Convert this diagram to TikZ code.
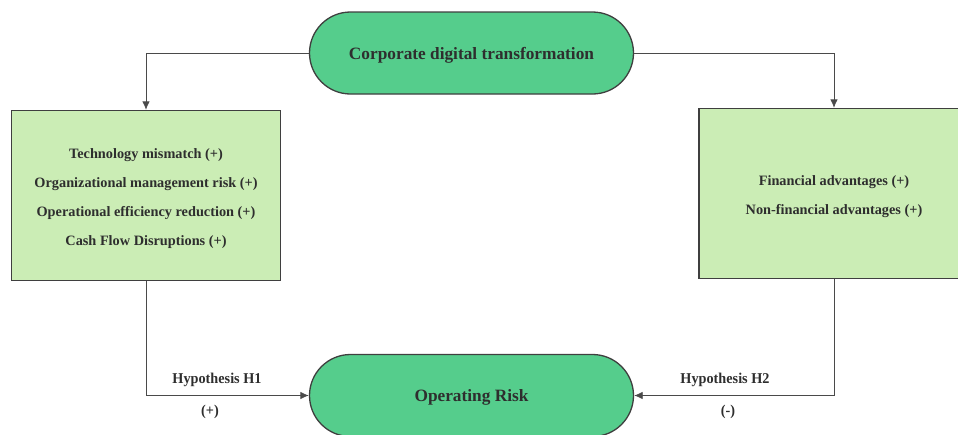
\documentclass[tikz,border=0pt]{standalone}
\usepackage{fontspec}
\setmainfont{Liberation Serif}
\usetikzlibrary{arrows.meta,shapes.misc}
\definecolor{pillgreen}{HTML}{55CD8C}
\definecolor{boxgreen}{HTML}{CBEDB5}
\definecolor{edgegray}{HTML}{3F3F3F}
\definecolor{wiregray}{HTML}{4A4A4A}
\definecolor{inkgray}{HTML}{2E2E2E}
\begin{document}
\begin{tikzpicture}[x=1pt,y=-1pt,
  pill/.style={rounded rectangle, draw=edgegray, line width=1.3pt, fill=pillgreen,
    minimum width=324pt, minimum height=82pt, inner sep=0pt,
    text height=12pt, text depth=0pt,
    font=\bfseries\fontsize{17.3}{20}\selectfont, text=inkgray},
  factorbox/.style={rectangle, draw=edgegray, line width=1.3pt, fill=boxgreen,
    minimum height=170pt, inner sep=0pt, align=center,
    font=\bfseries\fontsize{14.3}{29}\selectfont, text=inkgray},
  link/.style={draw=wiregray, line width=0.8pt, -{Latex[length=8.5pt,width=7.5pt]}},
  hyp/.style={font=\bfseries\fontsize{15}{17}\selectfont, text=inkgray, xscale=0.95, inner sep=0pt}
]
\useasboundingbox (0,0) rectangle (958,434);
\begin{scope}
\clip (0,0) rectangle (958,434);
\node[pill] (cdt) at (471.5,53) {Corporate digital transformation};
\node[factorbox, minimum width=269pt] (risks) at (146,195.5) {};
\node[factorbox, minimum width=270pt] (adv) at (834,193.5) {};
\node[pill] (risk) at (471.5,395.5) {Operating Risk};

% box contents, set a little below the geometric centre
\node[factorbox, draw=none, fill=none, minimum height=0pt] (risktext) at (146,198.5)
  {Technology mismatch (+)\\Organizational management risk (+)\\Operational efficiency reduction (+)\\Cash Flow Disruptions (+)};
\node[factorbox, draw=none, fill=none, minimum height=0pt] (advtext) at (834,196.5)
  {Financial advantages (+)\\Non-financial advantages (+)};

\draw[link] (cdt.west) -| (risks.north);
\draw[link] (cdt.east) -| (adv.north);
\draw[link] (risks.south) |- (risk.west);
\draw[link] (adv.south) |- (risk.east);

\node[hyp] (h1) at (217,380) {Hypothesis H1};
\node[hyp] (s1) at (210,412) {(+)};
\node[hyp] (h2) at (725,380) {Hypothesis H2};
\node[hyp] (s2) at (728,412) {(-)};
\end{scope}
\end{tikzpicture}
\end{document}
